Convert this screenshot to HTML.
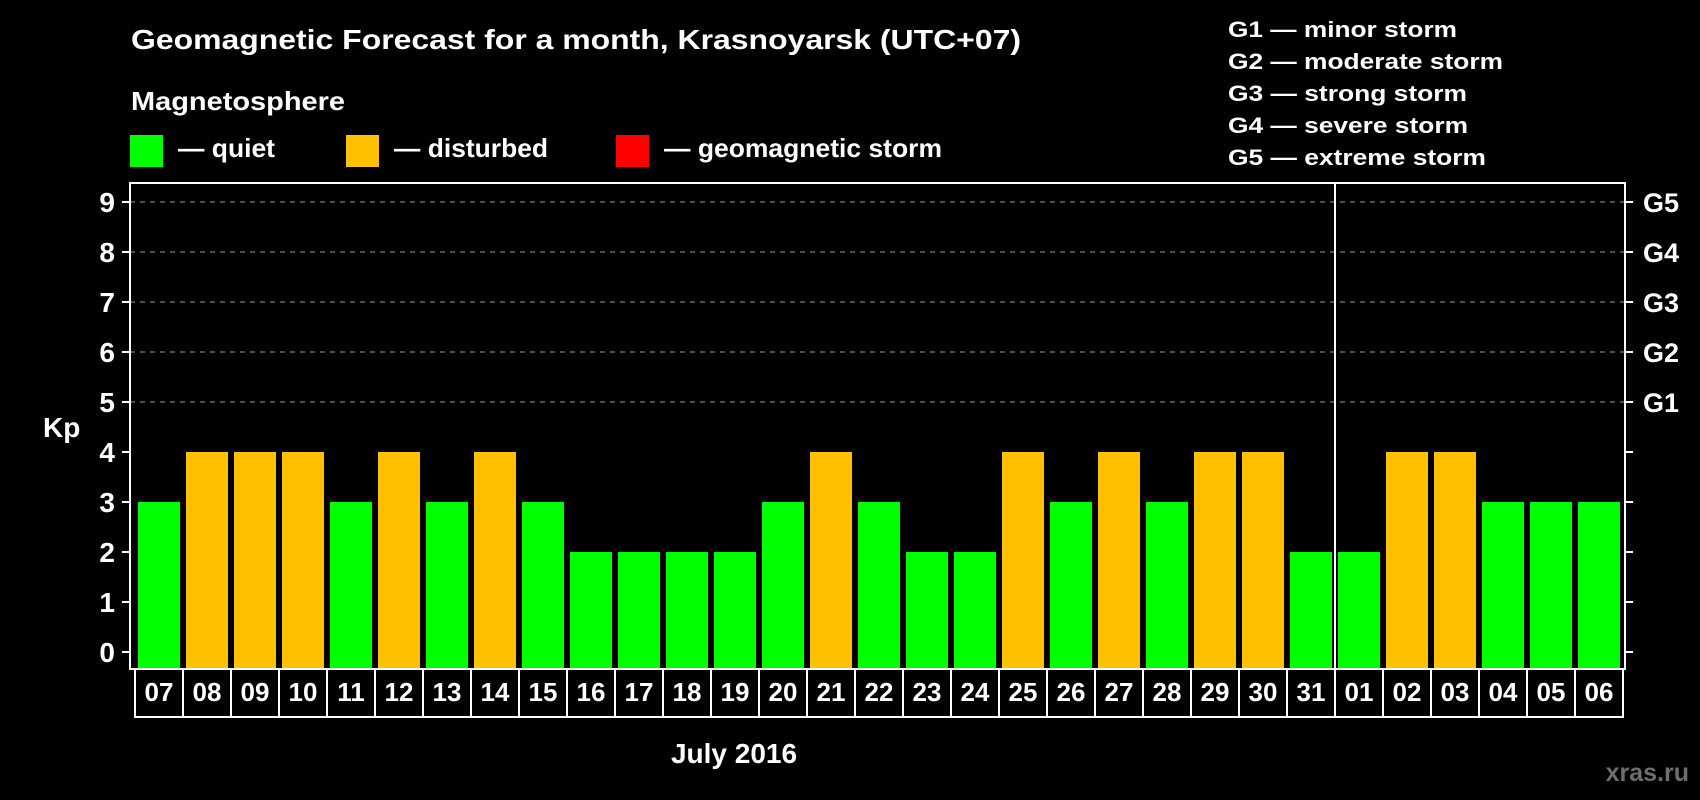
<!DOCTYPE html>
<html><head><meta charset="utf-8"><style>
html,body{margin:0;padding:0;background:#000;}
svg{display:block;font-family:"Liberation Sans",Arial,sans-serif;font-weight:bold;}
</style></head><body>
<svg id="chart" width="1700" height="800" viewBox="0 0 1700 800">
<rect x="0" y="0" width="1700" height="800" fill="#000"/>
<text x="131" y="49" font-size="28" fill="#fff" textLength="890" lengthAdjust="spacingAndGlyphs">Geomagnetic Forecast for a month, Krasnoyarsk (UTC+07)</text>
<text x="131" y="110" font-size="26" fill="#fff" textLength="214" lengthAdjust="spacingAndGlyphs">Magnetosphere</text>
<g>
<rect x="130" y="135" width="33" height="32" fill="#00ff00"/>
<text x="178" y="157" font-size="26" fill="#fff" textLength="97" lengthAdjust="spacingAndGlyphs">— quiet</text>
</g>
<g>
<rect x="346" y="135" width="33" height="32" fill="#ffc000"/>
<text x="394" y="157" font-size="26" fill="#fff" textLength="154" lengthAdjust="spacingAndGlyphs">— disturbed</text>
</g>
<g>
<rect x="616" y="135" width="33" height="32" fill="#ff0000"/>
<text x="664" y="157" font-size="26" fill="#fff" textLength="278" lengthAdjust="spacingAndGlyphs">— geomagnetic storm</text>
</g>
<g font-size="22" fill="#fff">
<text x="1228" y="37" textLength="229" lengthAdjust="spacingAndGlyphs">G1 — minor storm</text>
<text x="1228" y="69" textLength="275" lengthAdjust="spacingAndGlyphs">G2 — moderate storm</text>
<text x="1228" y="101" textLength="239" lengthAdjust="spacingAndGlyphs">G3 — strong storm</text>
<text x="1228" y="133" textLength="240" lengthAdjust="spacingAndGlyphs">G4 — severe storm</text>
<text x="1228" y="165" textLength="258" lengthAdjust="spacingAndGlyphs">G5 — extreme storm</text>
</g>
<text x="43" y="437" font-size="28" fill="#fff">Kp</text>
<text x="734" y="763" font-size="28" fill="#fff" text-anchor="middle">July 2016</text>
<text x="1689" y="781" font-size="25" fill="#6e6e6e" text-anchor="end">xras.ru</text>
<g id="grid"></g>
<g id="bars"></g>
<g id="axes"></g>
</svg>
<script>
const days = ["07","08","09","10","11","12","13","14","15","16","17","18","19","20","21","22","23","24","25","26","27","28","29","30","31","01","02","03","04","05","06"];
const kpValues = [3,4,4,4,3,4,3,4,3,2,2,2,2,3,4,3,2,2,4,3,4,3,4,4,2,2,4,4,3,3,3];
const yTicks = [0,1,2,3,4,5,6,7,8,9];
const gLabels = ["G1","G2","G3","G4","G5"];
const gLevels = [5,6,7,8,9];
const monthBreakIndex = 25;

const NS = "http://www.w3.org/2000/svg";
const plotL = 130, plotR = 1625, plotT = 183, plotB = 669;
const y0 = 652, unit = 50;
const xStart = 134, step = 48, barW = 42;
function yScale(v){ return y0 - v*unit; }
function xScale(i){ return xStart + i*step; }
function mk(tag, attrs, parent){ const e=document.createElementNS(NS,tag); for(const k in attrs) e.setAttribute(k, attrs[k]); parent.appendChild(e); return e; }
function color(v){ return v>=5 ? "#ff0000" : (v>=4 ? "#ffc000" : "#00ff00"); }

const grid = document.getElementById("grid");
gLevels.forEach(function(v, i){
  const l = mk("line",{x1:plotL,x2:plotR,y1:yScale(v),y2:yScale(v),stroke:"#9a9a9a","stroke-width":1,"stroke-dasharray":"5,5"},grid);
  
  
});

const bars = document.getElementById("bars");
kpValues.forEach(function(v, i){
  const r = mk("rect",{x:xScale(i)+4,y:yScale(v),width:barW,height:plotB-1-yScale(v),fill:color(v)},bars);
  
  
});

const axes = document.getElementById("axes");
const frame = mk("rect",{x:plotL,y:plotT,width:plotR-plotL,height:plotB-plotT,fill:"none",stroke:"#fff","stroke-width":2},axes);


const brk = mk("line",{x1:xScale(monthBreakIndex)+1,x2:xScale(monthBreakIndex)+1,y1:plotT,y2:plotB,stroke:"#fff","stroke-width":2},axes);



yTicks.forEach(function(v){
  const y = yScale(v);
  const t1 = mk("line",{x1:122,x2:plotL,y1:y,y2:y,stroke:"#fff","stroke-width":2},axes);
  
  
  const t2 = mk("line",{x1:plotR,x2:1633,y1:y,y2:y,stroke:"#fff","stroke-width":2},axes);
  
  
  const tx = mk("text",{x:115,y:y+10,"font-size":28,fill:"#fff","text-anchor":"end"},axes);
  tx.textContent = v;
  
  
});
gLabels.forEach(function(g, i){
  const tx = mk("text",{x:1643,y:yScale(gLevels[i])+10,"font-size":27,fill:"#fff"},axes);
  tx.textContent = g;
  
  
});

days.forEach(function(d, i){
  const bx = mk("rect",{x:xScale(i)+1,y:plotB,width:step,height:717-plotB,fill:"#000",stroke:"#fff","stroke-width":2},axes);
  
  
  const tx = mk("text",{x:xScale(i)+1+step/2,y:701,"font-size":26,fill:"#fff","text-anchor":"middle"},axes);
  tx.textContent = d;
  
  
});
</script>
</body></html>
